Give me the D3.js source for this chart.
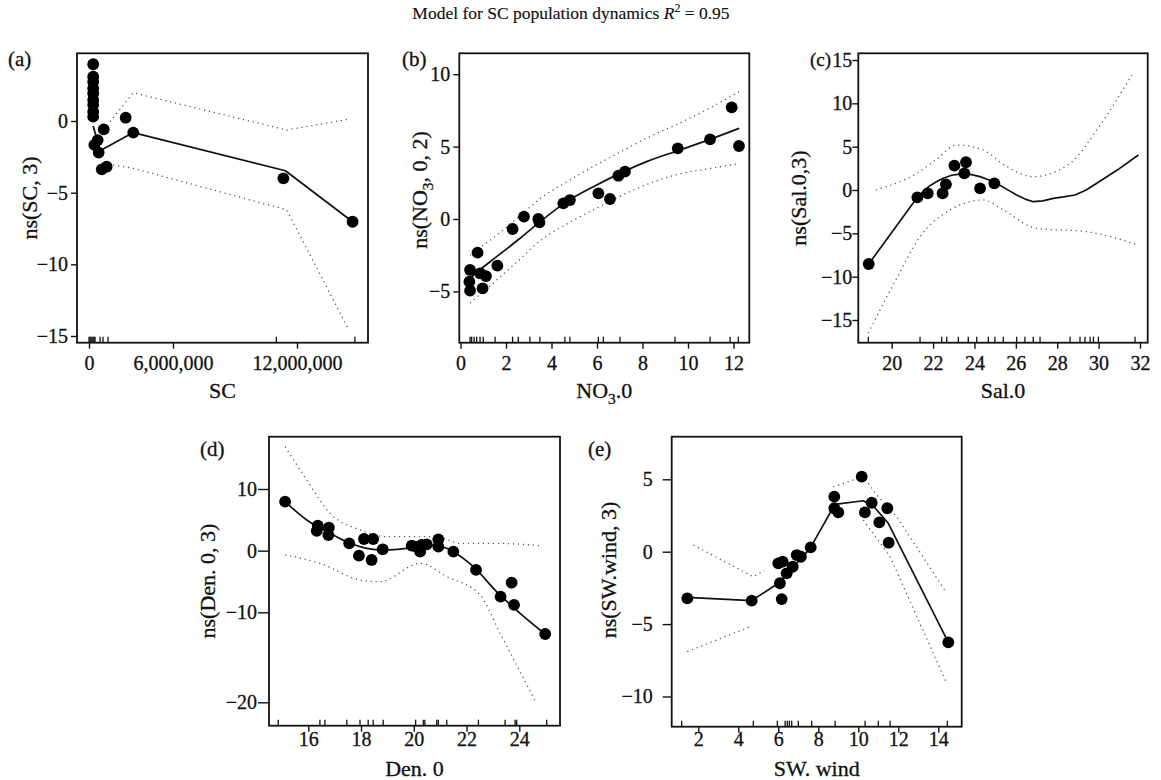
<!DOCTYPE html>
<html><head><meta charset="utf-8">
<script src="https://cdn.jsdelivr.net/npm/d3@7"></script>
<style>
body{margin:0;background:#fff}
svg{display:block}
text{font-family:"Liberation Serif","Times New Roman",serif;fill:#111;stroke:#111;stroke-width:0.3}
</style>
</head><body>
<svg id="chart" width="1161" height="780"></svg>
<script>
// ---------- Panel (a): SC ----------
const aPoints = [[3.0e5,3.96],[3.0e5,3.09],[3.0e5,2.74],[3.0e5,2.28],[3.0e5,1.93],[3.0e5,1.47],[3.0e5,1.12],[3.0e5,0.65],[3.0e5,0.30],
  [3.8e5,-1.67],[6.2e5,-1.33],[6.9e5,-2.2],[1.05e6,-0.58],[0.91e6,-3.37],[1.26e6,-3.19],[2.62e6,0.23],[3.16e6,-0.81],[11.34e6,-4.0],[14.69e6,-7.03]];
const aFit = [[3.0e5,-0.35],[7.9e5,-2.07],[3.16e6,-0.81],[11.44e6,-3.47],[14.69e6,-7.03]];
const aUpper = [[1.5e6,-0.05],[3.16e6,1.97],[11.5e6,-0.63],[14.48e6,0.12]];
const aLower = [[1.02e6,-2.95],[3.16e6,-3.3],[11.5e6,-6.2],[14.48e6,-14.5]];
const aRug = [0,0.07e6,0.14e6,0.21e6,0.29e6,0.36e6,0.43e6,0.79e6,1.0e6,1.36e6,11.0e6,14.8e6];
const aXTicks = [0,6e6,12e6];
const aYTicks = [0,-5,-10,-15];

// ---------- Panel (b): NO3.0 ----------
const bPoints = [[0.42,-3.52],[0.39,-4.33],[0.42,-4.95],[0.75,-2.32],[0.86,-3.75],[1.12,-3.94],[0.97,-4.79],[1.62,-3.22],
  [2.29,-0.69],[2.79,0.16],[3.42,0.0],[3.47,-0.23],[4.52,1.08],[4.81,1.31],[6.06,1.77],[6.57,1.38],[6.94,2.99],[7.23,3.27],
  [9.55,4.88],[10.97,5.5],[11.92,7.71],[12.24,5.04]];
const bFit = [[0.42,-4.1],[0.75,-3.64],[1.59,-2.6],[2.62,-1.33],[3.49,-0.2],[4.67,1.2],[5.84,2.23],[7.01,3.15],[8.18,3.96],[9.65,4.77],[10.97,5.5],[12.25,6.26]];
const bUpper = [[0.42,-2.5],[1.6,-1.1],[2.6,0.2],[3.5,1.4],[4.7,2.6],[5.8,3.6],[7.0,4.6],[8.2,5.6],[9.6,6.6],[11.0,7.7],[12.25,8.8]];
const bLower = [[0.42,-5.8],[1.6,-4.2],[2.6,-2.8],[3.5,-1.5],[4.96,-0.1],[6.3,1.0],[7.74,2.1],[9.6,3.1],[11.0,3.5],[12.14,3.8]];
const bRug = [0.42,0.49,0.6,0.71,0.86,1.0,1.52,2.29,2.54,3.05,3.49,4.59,4.81,6.06,6.28,7.01,9.43,10.97,11.85,12.21];
const bXTicks = [0,2,4,6,8,10,12];
const bYTicks = [10,5,0,-5];

// ---------- Panel (c): Sal.0 ----------
const cPoints = [[18.89,-8.54],[21.24,-0.85],[21.74,-0.38],[22.46,-0.38],[22.62,0.65],[23.03,2.81],[23.59,3.2],[23.51,1.92],[24.27,0.19],[24.96,0.77]];
const cFit = [[18.89,-8.54],[21.24,-0.85],[21.55,-0.1],[21.85,0.5],[22.2,1.0],[22.49,1.35],[22.9,1.7],[23.38,1.85],[23.8,1.8],[24.27,1.54],
  [24.7,1.15],[25.07,0.77],[25.55,0.1],[26.04,-0.58],[26.45,-1.05],[26.84,-1.35],[27.3,-1.25],[27.81,-0.96],[28.3,-0.8],[28.86,-0.58],
  [29.4,0.0],[29.91,0.77],[30.9,2.3],[31.92,4.04]];
const cUpper = [[19.24,0],[21.21,1.92],[22.2,3.6],[23.14,5.19],[24.43,4.6],[25.5,2.8],[26.84,1.54],[28.62,3.08],[29.91,6.92],[31.6,13.27]];
const cLower = [[18.87,-16.5],[20.24,-10.19],[21.37,-5.38],[22.82,-2.31],[24.43,-1.15],[25.39,-2.31],[27.0,-4.42],[29.42,-4.81],[31.92,-6.35]];
const cRug = [18.87,21.37,22.42,22.66,23.22,23.7,24.11,24.67,24.99,25.39,26.04,26.44,26.84,27.17,28.62,29.1,29.34,29.59,29.75,29.99,31.76];
const cXTicks = [20,22,24,26,28,30,32];
const cYTicks = [15,10,5,0,-5,-10,-15];

// ---------- Panel (d): Den. 0 ----------
const dPoints = [[15.12,7.95],[16.36,4.06],[16.32,3.2],[16.78,3.73],[16.76,2.54],[17.55,1.19],[17.92,-0.81],[18.11,1.89],[18.46,1.89],
  [18.4,-1.51],[18.82,0.22],[19.92,0.81],[20.08,0.65],[20.24,-0.16],[20.3,0.92],[20.49,1.03],[20.93,1.84],[20.93,0.65],[21.5,-0.16],
  [22.36,-3.13],[23.29,-7.46],[23.71,-5.19],[23.8,-8.8],[24.98,-12.41]];
const dFit = [[15.12,7.95],[15.94,4.98],[16.82,2.82],[17.58,1.19],[18.21,0.38],[18.84,0.11],[19.73,0.38],[20.49,0.92],[21.25,0.38],[21.5,-0.16],[22.26,-2.6],[23.14,-6.65],[24.03,-10.11],[24.98,-12.41]];
const dUpper = [[15.12,16.87],[15.94,11.47],[16.82,6.07],[17.96,3.36],[18.97,2.27],[20.87,2.27],[21.75,1.19],[23.01,1.19],[24.78,0.81]];
const dLower = [[15.12,-0.7],[16.44,-2.05],[17.96,-4.75],[18.72,-5.03],[20.24,-2.05],[21.25,-4.21],[22.51,-7.17],[23.27,-12.33],[24.6,-19.82]];
const dRug = [14.86,16.44,16.63,17.46,17.96,18.27,18.46,18.84,20.07,20.36,20.42,20.87,20.93,21.25,22.45,23.46,23.84,23.9,25.04];
const dXTicks = [16,18,20,22,24];
const dYTicks = [10,0,-10,-20];

// ---------- Panel (e): SW. wind ----------
const ePoints = [[1.45,-3.22],[4.67,-3.38],[6.0,-0.8],[6.22,-0.69],[6.08,-2.18],[6.17,-3.27],[6.42,-1.49],[6.72,-1.04],[6.92,-0.23],[7.13,-0.35],
  [7.62,0.3],[8.8,3.8],[8.8,3.0],[9.0,2.72],[10.17,5.18],[10.33,2.72],[10.67,3.38],[11.05,2.03],[11.45,3.0],[11.52,0.62],[14.5,-6.26]];
const eFit = [[1.45,-3.15],[4.67,-3.38],[6.0,-2.18],[6.72,-1.1],[7.59,0.23],[8.72,3.0],[8.92,3.29],[10.25,3.52],[10.75,3.16],[11.5,1.96],[14.5,-6.26]];
// null marks a stretch where the band is not visible in the picture
const eUpper = [[1.75,0.46],[4.75,-1.73],[5.3,-1.3],[6.5,null],[8.75,4.49],[10.25,5.18],[10.92,3.92],[11.92,2.42],[14.42,-2.87]];
const eLower = [[1.45,-6.9],[4.59,-5.18],[6.3,null],[10.25,2.19],[11.59,-0.35],[14.42,-9.09]];
const eRug = [1.17,4.75,5.95,6.34,6.45,6.55,6.67,7.0,7.67,8.84,10.34,11.0,11.59,14.45];
const eXTicks = [2,4,6,8,10,12,14];
const eYTicks = [5,0,-5,-10];

// ---------- layout ----------
const svg = d3.select("#chart");
const minus = v => v < 0 ? "\u2212" + Math.abs(v) : String(v);

const panels = [
  {id:"a", frame:{x:77,y:53.3,w:291,h:289.4}, xDom:[0,6e6,12e6], xRng:[89,173,297], yDom:[0,-15], yRng:[121,336],
   pts:aPoints, fit:aFit, up:aUpper, lo:aLower, rug:aRug, xt:aXTicks, yt:aYTicks, xfmt:d3.format(","), curve:d3.curveLinear, bandCurve:d3.curveLinear,
   ytick:[6,3], label:"(a)", labelPos:[8,66], labelSize:21, xlab:["SC"], xlabPos:[222.5,398], ylab:["ns(SC, 3)"], ylabPos:[37,198], xtY:370},
  {id:"b", frame:{x:459.3,y:53.3,w:290,h:289.4}, xDom:[0,12], xRng:[460.5,733.5], yDom:[0,10], yRng:[219,74.2],
   pts:bPoints, fit:bFit, up:bUpper, lo:bLower, rug:bRug, xt:bXTicks, yt:bYTicks, xfmt:minus, curve:d3.curveMonotoneX, bandCurve:d3.curveMonotoneX,
   ytick:[6,3], label:"(b)", labelPos:[402,66], labelSize:21, xlab:["NO","3",".0"], xlabPos:[604.3,398], ylab:["ns(NO","3",", 0, 2)"], ylabPos:[427,190], xtY:370},
  {id:"c", frame:{x:858.3,y:53.3,w:289.4,h:289.4}, xDom:[20,32], xRng:[891.7,1140], yDom:[0,15], yRng:[190,60],
   pts:cPoints, fit:cFit, up:cUpper, lo:cLower, rug:cRug, xt:cXTicks, yt:cYTicks, xfmt:minus, curve:d3.curveLinear, bandCurve:d3.curveMonotoneX,
   ytick:[6,0], label:"(c)", labelPos:[810,66], labelSize:19, xlab:["Sal.0"], xlabPos:[1003,398], ylab:["ns(Sal.0,3)"], ylabPos:[806,198], xtY:370},
  {id:"d", frame:{x:269,y:436.7,w:291,h:289}, xDom:[16,24], xRng:[308.3,519.3], yDom:[10,-10,-20], yRng:[489,612.3,702.3],
   pts:dPoints, fit:dFit, up:dUpper, lo:dLower, rug:dRug, xt:dXTicks, yt:dYTicks, xfmt:minus, curve:d3.curveMonotoneX, bandCurve:d3.curveMonotoneX,
   ytick:[11,1], label:"(d)", labelPos:[200,456], labelSize:21, xlab:["Den. 0"], xlabPos:[414.5,776], ylab:["ns(Den. 0, 3)"], ylabPos:[215,581], xtY:746.5},
  {id:"e", frame:{x:671.7,y:436.7,w:290,h:290}, xDom:[2,14], xRng:[698.3,938.3], yDom:[0,-10], yRng:[551.7,696.5],
   pts:ePoints, fit:eFit, up:eUpper, lo:eLower, rug:eRug, xt:eXTicks, yt:eYTicks, xfmt:minus, curve:d3.curveLinear, bandCurve:d3.curveLinear,
   ytick:[9,10], label:"(e)", labelPos:[588,456], labelSize:21, xlab:["SW. wind"], xlabPos:[816.7,776], ylab:["ns(SW.wind, 3)"], ylabPos:[616,570], xtY:746.5}
];

function addRich(sel, parts, size) {
  // parts alternate: normal text, subscript, normal text ...
  parts.forEach((t, i) => {
    const ts = sel.append("tspan").text(t);
    if (i % 2 === 1) { ts.attr("font-size", size * 0.7).attr("dy", size * 0.28); }
    else if (i > 0) { ts.attr("dy", -size * 0.28); }
  });
}

// title
const title = svg.append("text").attr("x", 571).attr("y", 19).attr("text-anchor", "middle").attr("font-size", 17.5)
  .style("stroke-width", 0.15);
title.append("tspan").text("Model for SC population dynamics ");
title.append("tspan").attr("font-style", "italic").text("R");
title.append("tspan").attr("font-size", 12).attr("dy", -7).text("2");
title.append("tspan").attr("dy", 7).text(" = 0.95");

panels.forEach(p => {
  const f = p.frame;
  const g = svg.append("g");
  const x = d3.scaleLinear().domain(p.xDom).range(p.xRng);
  const y = d3.scaleLinear().domain(p.yDom).range(p.yRng);

  const clipId = "clip-" + p.id;
  svg.append("clipPath").attr("id", clipId).append("rect")
    .attr("x", f.x).attr("y", f.y).attr("width", f.w).attr("height", f.h);
  const inner = g.append("g").attr("clip-path", `url(#${clipId})`);

  const line = d3.line().defined(d => d[1] != null).x(d => x(d[0])).y(d => y(d[1])).curve(p.curve);
  const bandLine = d3.line().defined(d => d[1] != null).x(d => x(d[0])).y(d => y(d[1])).curve(p.bandCurve);
  [p.up, p.lo].forEach(band => {
    inner.append("path").datum(band).attr("d", bandLine)
      .attr("fill", "none").attr("stroke", "#555").attr("stroke-width", 1.3)
      .attr("stroke-dasharray", "1.2,3.8");
  });
  inner.append("path").datum(p.fit).attr("d", line)
    .attr("fill", "none").attr("stroke", "#111").attr("stroke-width", 1.7).attr("stroke-linejoin", "round");
  inner.selectAll("circle").data(p.pts).join("circle")
    .attr("cx", d => x(d[0])).attr("cy", d => y(d[1])).attr("r", 5.9).attr("fill", "#000");

  // rug
  g.append("g").selectAll("line").data(p.rug).join("line")
    .attr("x1", d => x(d)).attr("x2", d => x(d))
    .attr("y1", f.y + f.h).attr("y2", f.y + f.h - 6)
    .attr("stroke", "#111").attr("stroke-width", 1.3);

  // frame
  g.append("rect").attr("x", f.x).attr("y", f.y).attr("width", f.w).attr("height", f.h)
    .attr("fill", "none").attr("stroke", "#111").attr("stroke-width", 1.8);

  // y axis
  const ya = g.append("g").attr("transform", `translate(${f.x},0)`)
    .call(d3.axisLeft(y).tickValues(p.yt).tickSize(p.ytick[0]).tickPadding(p.ytick[1]).tickFormat(minus));
  ya.select(".domain").remove();
  ya.selectAll("line").attr("stroke", "#111").attr("stroke-width", 1.4);
  ya.selectAll("text").attr("font-size", 20).attr("font-family", "Liberation Serif").attr("fill", "#111");

  // x axis
  const xa = g.append("g").attr("transform", `translate(0,${f.y + f.h})`)
    .call(d3.axisBottom(x).tickValues(p.xt).tickSize(6).tickFormat(p.xfmt));
  xa.select(".domain").remove();
  xa.selectAll("line").attr("stroke", "#111").attr("stroke-width", 1.4);
  xa.selectAll("text").attr("font-size", 20).attr("font-family", "Liberation Serif").attr("fill", "#111")
    .attr("y", p.xtY - (f.y + f.h)).attr("dy", 0);

  // panel label
  g.append("text").attr("x", p.labelPos[0]).attr("y", p.labelPos[1]).attr("font-size", p.labelSize).text(p.label);

  // axis titles
  const xt = g.append("text").attr("x", p.xlabPos[0]).attr("y", p.xlabPos[1])
    .attr("text-anchor", "middle").attr("font-size", 22);
  addRich(xt, p.xlab, 22);
  const yt = g.append("text").attr("transform", `translate(${p.ylabPos[0]},${p.ylabPos[1]}) rotate(-90)`)
    .attr("text-anchor", "middle").attr("font-size", 22);
  addRich(yt, p.ylab, 22);
});
</script>
</body></html>
